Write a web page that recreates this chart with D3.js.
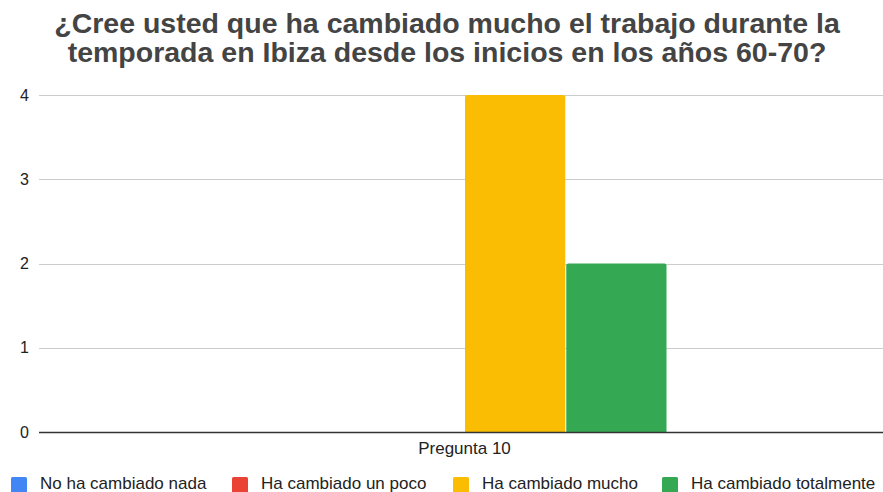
<!DOCTYPE html>
<html>
<head>
<meta charset="utf-8">
<script src="https://cdn.jsdelivr.net/npm/d3@7"></script>
<style>
  html, body { margin: 0; padding: 0; background: #fff; }
  svg { display: block; font-family: Arial, "Liberation Sans", sans-serif; }
</style>
</head>
<body>
<svg id="chart" width="883" height="492"></svg>
<script>
// Survey answers for question 10
const categories = ["Pregunta 10"];
const seriesNames = ["No ha cambiado nada", "Ha cambiado un poco", "Ha cambiado mucho", "Ha cambiado totalmente"];
const seriesValues = [0, 0, 4, 2];
const seriesColors = ["#4285f4", "#ea4335", "#fbbc04", "#34a853"];
const yTicks = [0, 1, 2, 3, 4];
const titleLines = [
  "¿Cree usted que ha cambiado mucho el trabajo durante la",
  "temporada en Ibiza desde los inicios en los años 60-70?"
];

const svg = d3.select("#chart");
const W = 883, H = 492;
const margin = { left: 39, right: 0, top: 95, bottom: 60 };
const plotBottom = 432;

// Title
svg.append("g").selectAll("text")
  .data(titleLines)
  .join("text")
  .attr("x", 447)
  .attr("y", (d, i) => 33 + i * 29)
  .attr("text-anchor", "middle")
  .attr("font-size", 28.5)
  .attr("font-weight", "bold")
  .attr("fill", "#444")
  .text(d => d);

const y = d3.scaleLinear().domain([0, 4]).range([plotBottom, margin.top]);
const x0 = d3.scaleBand().domain(categories).range([margin.left, W - margin.right])
  .paddingInner(0).paddingOuter(0.542).align(0.508);
const x1 = d3.scaleBand().domain(seriesNames).range([0, x0.bandwidth()]).padding(0);

// Gridlines
svg.append("g").selectAll("line")
  .data(yTicks.filter(t => t !== 0))
  .join("line")
  .attr("x1", margin.left).attr("x2", W)
  .attr("y1", d => Math.round(y(d)) + 0.5).attr("y2", d => Math.round(y(d)) + 0.5)
  .attr("stroke", "#cccccc").attr("stroke-width", 1);

// Y tick labels
svg.append("g").selectAll("text")
  .data(yTicks)
  .join("text")
  .attr("x", 29)
  .attr("y", d => y(d) + 5.5)
  .attr("text-anchor", "end")
  .attr("font-size", 16)
  .attr("fill", "#222")
  .text(d => d);

// Bars
const group = svg.append("g").selectAll("g")
  .data(categories)
  .join("g")
  .attr("transform", d => `translate(${x0(d)},0)`);

group.selectAll("path")
  .data(() => seriesNames.map((name, i) => ({ name, value: seriesValues[i], color: seriesColors[i] })))
  .join("path")
  .filter(d => d.value > 0)
  .attr("d", d => {
    const bx = x1(d.name) + 0.5, bw = x1.bandwidth() - 1;
    const top = y(d.value), bot = y(0), r = 2;
    return `M${bx},${bot}V${top + r}Q${bx},${top} ${bx + r},${top}H${bx + bw - r}Q${bx + bw},${top} ${bx + bw},${top + r}V${bot}Z`;
  })
  .attr("fill", d => d.color);

// Baseline
svg.append("line")
  .attr("x1", margin.left).attr("x2", W)
  .attr("y1", plotBottom + 0.5).attr("y2", plotBottom + 0.5)
  .attr("stroke", "#333").attr("stroke-width", 1.3);

// Category label
svg.append("g").selectAll("text")
  .data(categories)
  .join("text")
  .attr("x", d => x0(d) + x0.bandwidth() / 2)
  .attr("y", 454)
  .attr("text-anchor", "middle")
  .attr("font-size", 17)
  .attr("fill", "#222")
  .text(d => d);

// Legend
const legendX = [11, 232, 453, 662];
const legend = svg.append("g").selectAll("g")
  .data(seriesNames)
  .join("g")
  .attr("transform", (d, i) => `translate(${legendX[i]},0)`);
legend.append("rect")
  .attr("x", 0).attr("y", 477).attr("width", 16).attr("height", 16).attr("rx", 1.5)
  .attr("fill", (d, i) => seriesColors[i]);
legend.append("text")
  .attr("x", 29).attr("y", 489)
  .attr("font-size", 17)
  .attr("fill", "#222")
  .text(d => d);
</script>
</body>
</html>
